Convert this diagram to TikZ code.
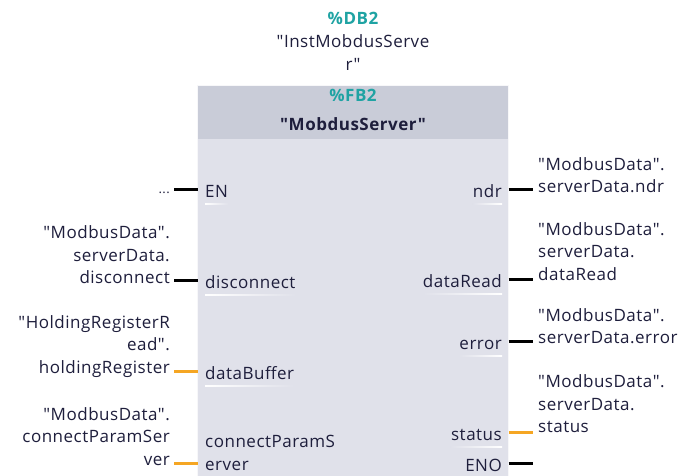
\documentclass[tikz,border=0pt]{standalone}
\usepackage{fontspec}
\setmainfont{Open Sans}[LetterSpace=3, Ligatures=TeXOff]
\usetikzlibrary{calc}
\definecolor{txt}{HTML}{1E1E3C}
\definecolor{fbteal}{HTML}{1FA3A3}
\definecolor{hdr}{HTML}{C9CCD8}
\definecolor{bodyc}{HTML}{E0E1EA}
\definecolor{orng}{HTML}{F5A623}
\begin{document}
\begin{tikzpicture}[x=1pt,y=-1pt,
  every node/.style={font=\fontsize{17}{22.5}\selectfont, text=txt, inner sep=0pt},
  bold/.style={font=\fontsize{17}{22.5}\selectfont\bfseries},
  wire/.style={line width=3pt},
  bwire/.style={wire, black},
  owire/.style={wire, orng},
  uline/.style={left color=white, right color=bodyc, middle color=white!70!bodyc},
  pinl/.style={anchor=base west, align=left},
  pinr/.style={anchor=base east},
  extl/.style={anchor=base east, align=right},
  extr/.style={anchor=base west, align=left}]
\useasboundingbox (0,0) rectangle (683,475);
\fill[white] (0,0) rectangle (683,475);
% block
\fill[bodyc] (197.5,85) rectangle (508.5,480);
\fill[hdr] (197.5,85) rectangle (508.5,139);
\draw[white!85!hdr, line width=1pt] (197.5,480) -- (197.5,85) -- (508.5,85) -- (508.5,480);
% titles
\node[bold, text=fbteal, anchor=base] (db) at (353,24) {\%DB2};
\node[anchor=base, align=center] (inst) at (353,70) {"InstMobdusServe\\r"};
\node[bold, text=fbteal, anchor=base] (fb) at (353,101.5) {\%FB2};
\node[bold, anchor=base] (fbname) at (353,130) {"MobdusServer"};
% pin coordinates
\coordinate (pEN) at (197.5,189);
\coordinate (pDisc) at (197.5,280);
\coordinate (pBuf) at (197.5,371);
\coordinate (pConn) at (197.5,463);
\coordinate (pNdr) at (508.5,189);
\coordinate (pRead) at (508.5,279);
\coordinate (pErr) at (508.5,341);
\coordinate (pStat) at (508.5,432);
\coordinate (pEno) at (508.5,463);
% pin names
\node[pinl] (nEN) at (205,197) {EN};
\node[pinl] (nDisc) at (205,288) {disconnect};
\node[pinl] (nBuf) at (205,379) {dataBuffer};
\node[pinl] (nConn) at (205,470) {connectParamS\\erver};
\node[pinr] (nNdr) at (502,197) {ndr};
\node[pinr] (nRead) at (502,287) {dataRead};
\node[pinr] (nErr) at (502,349) {error};
\node[pinr] (nStat) at (502,440) {status};
\node[pinr] (nEno) at (502,471) {ENO};
% underlines (fading to the right for inputs, to the left for outputs)
\foreach \n in {nEN,nDisc,nBuf}
  \shade[left color=white, right color=bodyc] ($(\n.base west)+(0,6.5)$) rectangle ($(\n.base east)+(0,7.8)$);
\foreach \n in {nNdr,nRead,nErr,nStat}
  \shade[left color=bodyc, right color=white] ($(\n.base west)+(0,6.5)$) rectangle ($(\n.base east)+(0,7.8)$);
% wires
\draw[bwire] (pEN) -- ++(-23.5,0) coordinate (eEN);
\draw[bwire] (pDisc) -- ++(-23.5,0) coordinate (eDisc);
\draw[owire] (pBuf) -- ++(-23.5,0) coordinate (eBuf);
\draw[owire] (pConn) -- ++(-23.5,0) coordinate (eConn);
\draw[bwire] (pNdr) -- ++(24.5,0) coordinate (eNdr);
\draw[bwire] (pRead) -- ++(24.5,0) coordinate (eRead);
\draw[bwire] (pErr) -- ++(24.5,0) coordinate (eErr);
\draw[owire] (pStat) -- ++(24.5,0) coordinate (eStat);
\draw[bwire] (pEno) -- ++(24.5,0) coordinate (eEno);
% outer labels left
\node[extl, font=\fontsize{13}{22.5}\selectfont] (xEN) at (170,193) {...};
\node[extl] (xDisc) at (170,283.5) {"ModbusData".\\serverData.\\disconnect};
\node[extl] (xBuf) at (170,373) {"HoldingRegisterR\\ead".\\holdingRegister};
\node[extl] (xConn) at (170,465) {"ModbusData".\\connectParamSer\\ver};
% outer labels right
\node[extr] (xNdr) at (538,192.5) {"ModbusData".\\serverData.ndr};
\node[extr] (xRead) at (538,280) {"ModbusData".\\serverData.\\dataRead};
\node[extr] (xErr) at (538,343.5) {"ModbusData".\\serverData.error};
\node[extr] (xStat) at (538,432.5) {"ModbusData".\\serverData.\\status};
\end{tikzpicture}
\end{document}
